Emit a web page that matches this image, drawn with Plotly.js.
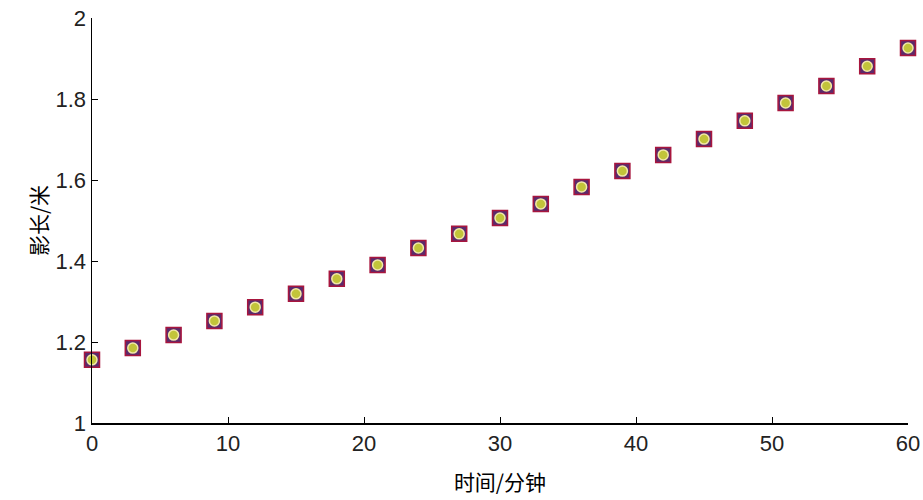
<!DOCTYPE html>
<html>
<head>
<meta charset="utf-8">
<script src="https://cdn.plot.ly/plotly-3.0.1.min.js"></script>
<style>html,body{margin:0;padding:0;background:#fff;}#chart{width:923px;height:500px;}</style>
</head>
<body>
<div id="chart"></div>
<script>
const timeMin = [0,3,6,9,12,15,18,21,24,27,30,33,36,39,42,45,48,51,54,57,60];
const shadowLen = [1.156,1.185,1.217,1.252,1.286,1.319,1.356,1.390,1.432,1.467,1.506,1.541,1.583,1.622,1.662,1.701,1.746,1.790,1.832,1.881,1.926];
const xTicks = [0,10,20,30,40,50,60];
const yTicks = [1,1.2,1.4,1.6,1.8,2];
const yTickText = ['1','1.2','1.4','1.6','1.8','2'];

const traces = [
  {x: timeMin, y: shadowLen, mode: 'markers', type: 'scatter', cliponaxis: false,
   marker: {symbol: 'square', size: 15, color: '#5a2a6c', line: {color: '#a8163e', width: 1.5}}},
  {x: timeMin, y: shadowLen, mode: 'markers', type: 'scatter', cliponaxis: false,
   marker: {symbol: 'circle', size: 10, color: '#c2c43a', line: {color: '#f2e8a8', width: 1.5}}}
];
const axisFont = {family: 'Liberation Sans, Arial, sans-serif', size: 22, color: '#222'};
const layout = {
  width: 923, height: 500,
  margin: {l: 92, r: 15, t: 18, b: 77},
  showlegend: false,
  paper_bgcolor: '#fff', plot_bgcolor: '#fff',
  xaxis: {range: [0, 60], tickvals: xTicks, ticks: 'inside', ticklen: 6, tickcolor: '#000',
    showline: true, linecolor: '#000', linewidth: 1.5, showgrid: false, zeroline: false,
    tickfont: axisFont, automargin: false,
    title: {text: '时间/分钟', font: {family: 'Noto Sans CJK SC, sans-serif', size: 21, color: '#000'}, standoff: 20}},
  yaxis: {range: [1, 2], tickvals: yTicks, ticktext: yTickText, ticks: 'inside', ticklen: 6, tickcolor: '#000',
    showline: true, linecolor: '#000', linewidth: 1.5, showgrid: false, zeroline: false,
    tickfont: axisFont, automargin: false,
    title: {text: '影长/米', font: {family: 'Noto Sans CJK SC, sans-serif', size: 21, color: '#000'}, standoff: 2}}
};
Plotly.newPlot('chart', traces, layout, {displayModeBar: false, staticPlot: true});
</script>
</body>
</html>
